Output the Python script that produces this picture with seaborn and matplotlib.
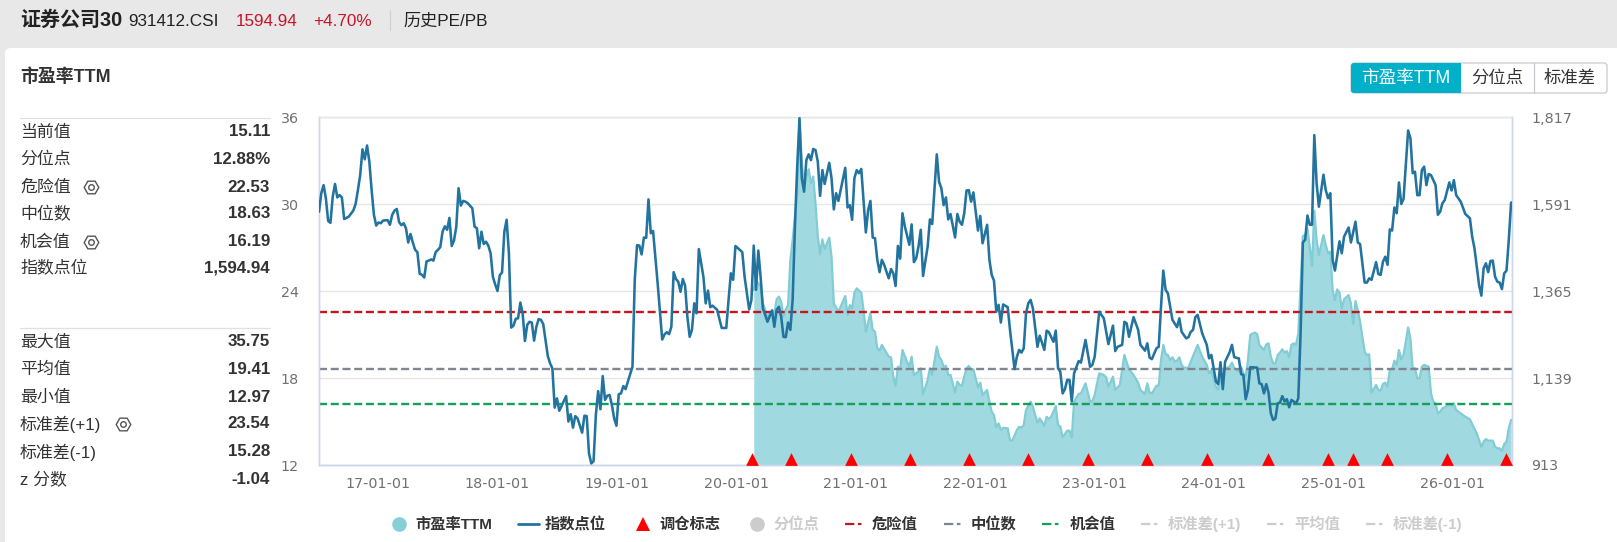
import matplotlib
matplotlib.use("Agg")
import matplotlib.pyplot as plt
from matplotlib.lines import Line2D
from matplotlib.patches import FancyBboxPatch, Rectangle
from matplotlib.ticker import FuncFormatter
from matplotlib.transforms import IdentityTransform
import matplotlib.dates as mdates
import pandas as pd
import seaborn as sns

# Weekly observations, counted in weeks after the first date of the series
series_start = pd.Timestamp("2016-07-04")

index_weeks = [
    0, 1, 2, 3, 4, 5, 6, 7, 8, 9, 10, 11, 12, 13, 15, 16, 17, 18, 19, 20, 21, 22, 23, 24, 25, 26, 27, 28, 30, 31,
    32, 33, 34, 35, 36, 37, 38, 39, 40, 41, 42, 43, 44, 45, 46, 47, 48, 49, 50, 51, 52, 53, 54, 55, 56, 57, 58, 59, 60, 61,
    62, 63, 64, 65, 67, 68, 69, 70, 71, 72, 73, 74, 75, 76, 77, 78, 79, 80, 81, 82, 83, 84, 85, 86, 87, 88, 89, 90, 91, 92,
    93, 94, 95, 96, 97, 98, 99, 100, 101, 102, 103, 104, 105, 106, 108, 109, 110, 111, 112, 113, 115, 116, 117, 118, 119, 120, 121, 122, 123, 124,
    125, 126, 127, 128, 129, 130, 131, 132, 133, 134, 135, 137, 138, 139, 140, 141, 142, 143, 144, 145, 146, 147, 148, 150, 151, 152, 153, 154, 155, 156,
    157, 158, 159, 160, 161, 162, 163, 164, 165, 166, 168, 169, 170, 171, 172, 174, 176, 178, 179, 180, 181, 182, 185, 186, 188, 189, 190, 191, 192, 193,
    194, 195, 196, 198, 199, 200, 201, 202, 203, 204, 205, 206, 207, 208, 209, 210, 211, 212, 213, 214, 215, 216, 217, 218, 219, 220, 221, 223, 224, 225,
    226, 227, 230, 231, 232, 233, 234, 235, 236, 237, 238, 239, 240, 241, 242, 243, 244, 245, 246, 247, 249, 250, 251, 252, 253, 254, 255, 256, 258, 259,
    260, 261, 262, 263, 264, 266, 267, 268, 270, 271, 272, 273, 274, 275, 276, 278, 279, 280, 281, 282, 283, 284, 285, 286, 288, 289, 290, 292, 293, 294,
    295, 296, 297, 298, 299, 301, 302, 304, 305, 306, 307, 308, 309, 310, 311, 312, 314, 315, 317, 318, 319, 321, 322, 323, 324, 325, 326, 327, 328, 329,
    330, 332, 333, 335, 337, 338, 339, 341, 343, 345, 347, 348, 349, 351, 352, 353, 354, 356, 358, 359, 361, 362, 363, 364, 366, 367, 368, 369, 370, 371,
    373, 375, 376, 377, 379, 380, 381, 382, 383, 384, 386, 388, 389, 390, 392, 393, 394, 395, 396, 398, 399, 400, 402, 403, 404, 405, 406, 407, 410, 411,
    412, 413, 414, 415, 416, 417, 418, 419, 420, 421, 422, 423, 424, 425, 426, 427, 428, 429, 430, 431, 432, 433, 434, 435, 436, 437, 439, 440, 441, 442,
    443, 444, 446, 447, 448, 450, 451, 453, 454, 455, 457, 458, 459, 460, 462, 463, 464, 465, 466, 467, 468, 469, 470, 471, 472, 473, 474, 476, 477, 478,
    479, 480, 481, 482, 483, 484, 485, 486, 488, 489, 490, 491, 492, 494, 495, 496, 497, 499, 501, 503, 504, 505, 507, 508, 509, 510, 511, 512, 513, 514,
    515, 516, 517, 518, 519, 520, 521,
]

index_points = [
    1571, 1619, 1640, 1606, 1547, 1542, 1610, 1643, 1608, 1614, 1608, 1552, 1555, 1558, 1574, 1591, 1627, 1666, 1733, 1707, 1743, 1701, 1627, 1563, 1535, 1543, 1541, 1548, 1549, 1537,
    1563, 1574, 1578, 1544, 1536, 1541, 1528, 1491, 1513, 1491, 1472, 1466, 1410, 1407, 1400, 1442, 1444, 1447, 1444, 1466, 1472, 1479, 1519, 1533, 1524, 1555, 1482, 1496, 1532, 1632,
    1587, 1599, 1597, 1593, 1580, 1532, 1528, 1476, 1519, 1487, 1493, 1483, 1463, 1402, 1382, 1365, 1406, 1413, 1519, 1550, 1463, 1270, 1275, 1293, 1294, 1335, 1307, 1235, 1277, 1285,
    1283, 1236, 1272, 1292, 1290, 1279, 1238, 1196, 1177, 1164, 1062, 1086, 1054, 1066, 1092, 1026, 1045, 1010, 1040, 1034, 997, 1041, 1040, 943, 917, 923, 1043, 1105, 1058, 1144,
    1082, 1093, 1095, 1069, 1034, 1015, 1097, 1099, 1118, 1110, 1130, 1168, 1394, 1484, 1483, 1460, 1504, 1503, 1603, 1515, 1521, 1454, 1385, 1239, 1252, 1258, 1253, 1272, 1414, 1396,
    1389, 1363, 1396, 1379, 1298, 1246, 1264, 1333, 1307, 1474, 1402, 1333, 1366, 1323, 1327, 1316, 1269, 1269, 1342, 1411, 1394, 1482, 1466, 1402, 1317, 1342, 1483, 1368, 1470, 1402,
    1320, 1303, 1285, 1314, 1272, 1316, 1324, 1298, 1246, 1245, 1283, 1264, 1342, 1532, 1688, 1814, 1658, 1623, 1705, 1720, 1705, 1734, 1731, 1701, 1612, 1679, 1643, 1698, 1658, 1577,
    1619, 1599, 1685, 1582, 1588, 1550, 1658, 1679, 1671, 1682, 1601, 1517, 1575, 1599, 1504, 1502, 1446, 1414, 1446, 1433, 1398, 1422, 1411, 1378, 1482, 1449, 1567, 1534, 1485, 1538,
    1440, 1450, 1480, 1524, 1404, 1480, 1551, 1539, 1720, 1649, 1632, 1588, 1608, 1551, 1565, 1504, 1565, 1545, 1537, 1567, 1626, 1627, 1597, 1621, 1522, 1560, 1489, 1537, 1446, 1407,
    1392, 1311, 1329, 1283, 1330, 1323, 1264, 1162, 1194, 1212, 1205, 1216, 1307, 1333, 1342, 1320, 1220, 1249, 1212, 1262, 1258, 1233, 1262, 1164, 1155, 1099, 1110, 1134, 1134, 1078,
    1151, 1183, 1179, 1238, 1168, 1173, 1194, 1311, 1294, 1227, 1275, 1209, 1220, 1225, 1285, 1281, 1246, 1297, 1264, 1225, 1210, 1229, 1192, 1188, 1216, 1220, 1324, 1418, 1368, 1359,
    1290, 1271, 1294, 1259, 1242, 1245, 1259, 1264, 1297, 1303, 1255, 1225, 1190, 1199, 1130, 1123, 1180, 1110, 1181, 1206, 1225, 1193, 1190, 1149, 1147, 1084, 1108, 1167, 1166, 1125,
    1123, 1099, 1123, 1101, 1047, 1030, 1034, 1073, 1075, 1092, 1078, 1084, 1063, 1082, 1078, 1073, 1086, 1255, 1491, 1498, 1561, 1537, 1537, 1770, 1645, 1584, 1667, 1627, 1606, 1619,
    1446, 1418, 1494, 1463, 1506, 1530, 1491, 1545, 1491, 1487, 1387, 1387, 1398, 1394, 1440, 1409, 1407, 1441, 1454, 1433, 1525, 1522, 1582, 1567, 1647, 1591, 1604, 1782, 1762, 1671,
    1675, 1614, 1614, 1679, 1688, 1640, 1669, 1666, 1640, 1563, 1571, 1593, 1601, 1647, 1626, 1653, 1614, 1597, 1565, 1554, 1506, 1476, 1381, 1353, 1424, 1437, 1414, 1443, 1444, 1402,
    1389, 1387, 1370, 1411, 1418, 1498, 1594.94,
]

pe_weeks = [
    190, 191, 193, 194, 195, 196, 198, 199, 200, 201, 202, 203, 204, 205, 206, 207, 209, 210, 211, 212, 213, 214, 215, 216, 217, 218, 219, 220, 221, 223,
    224, 225, 227, 230, 231, 232, 233, 234, 235, 237, 238, 239, 241, 242, 243, 244, 245, 246, 249, 250, 251, 252, 253, 254, 255, 257, 258, 259, 260, 262,
    263, 264, 266, 267, 268, 270, 271, 272, 273, 274, 275, 276, 278, 279, 280, 281, 282, 283, 284, 285, 286, 288, 289, 290, 292, 293, 294, 295, 296, 297,
    298, 299, 301, 302, 303, 305, 306, 307, 308, 309, 311, 312, 314, 315, 317, 318, 319, 320, 322, 323, 324, 325, 327, 328, 329, 330, 332, 333, 335, 337,
    338, 339, 341, 343, 344, 345, 347, 348, 350, 352, 354, 356, 358, 359, 361, 362, 363, 364, 366, 367, 368, 369, 370, 371, 372, 373, 374, 375, 376, 377,
    378, 380, 381, 384, 386, 388, 389, 390, 392, 393, 394, 395, 396, 398, 399, 400, 402, 403, 404, 405, 406, 407, 409, 410, 411, 413, 414, 415, 416, 417,
    418, 419, 420, 421, 422, 423, 424, 425, 426, 427, 428, 430, 431, 432, 433, 434, 435, 436, 437, 439, 440, 441, 442, 443, 444, 445, 446, 447, 448, 450,
    451, 452, 453, 454, 455, 457, 458, 459, 460, 462, 463, 464, 465, 466, 467, 468, 469, 470, 471, 472, 473, 474, 476, 477, 478, 479, 480, 481, 482, 483,
    485, 486, 487, 488, 489, 490, 491, 492, 494, 495, 496, 497, 499, 501, 503, 504, 506, 508, 509, 510, 511, 512, 513, 514, 515, 516, 517, 518, 519, 520,
    521,
]

pe_values = [
    24.07, 24.76, 24.30, 23.15, 22.69, 22.23, 22.69, 22.46, 23.43, 23.61, 23.26, 22.23, 22.74, 23.03, 26.14, 27.52, 30.74, 35.75, 33.00, 31.00, 31.90, 32.40, 31.43, 31.89, 30.05, 27.75, 26.55, 27.56, 26.90, 27.68,
    26.37, 23.15, 22.57, 23.66, 22.34, 23.03, 22.80, 23.89, 24.18, 23.89, 22.69, 21.20, 22.46, 21.31, 21.20, 20.05, 19.89, 20.28, 19.47, 19.43, 18.09, 17.47, 18.78, 18.60, 19.93, 19.13, 18.78, 19.47, 18.21, 18.44,
    18.67, 16.87, 17.86, 18.67, 18.21, 20.16, 19.47, 19.24, 18.78, 18.83, 18.21, 18.21, 17.01, 17.75, 17.52, 17.47, 18.09, 18.67, 18.83, 18.55, 18.60, 17.36, 17.68, 16.83, 17.17, 16.37, 15.68, 15.45, 14.60, 14.87,
    14.41, 14.57, 14.53, 13.72, 13.68, 14.41, 14.64, 14.57, 14.76, 15.79, 16.37, 16.02, 14.92, 15.22, 14.69, 15.33, 15.17, 15.33, 16.07, 14.76, 14.64, 13.91, 14.37, 14.37, 13.91, 16.37, 16.90, 16.94, 17.63, 16.37,
    16.41, 16.83, 18.32, 18.21, 18.05, 17.40, 18.09, 17.17, 17.52, 19.59, 18.60, 18.21, 17.68, 17.17, 16.90, 17.63, 16.99, 16.94, 17.47, 17.47, 19.24, 20.28, 19.66, 19.59, 19.24, 19.43, 19.13, 19.20, 19.43, 18.90,
    18.71, 18.71, 19.13, 20.28, 19.47, 18.90, 18.32, 18.51, 17.40, 17.22, 18.21, 17.40, 18.67, 18.78, 19.06, 18.67, 18.44, 18.78, 18.32, 18.09, 19.24, 20.97, 21.13, 21.03, 20.28, 19.93, 20.32, 20.39, 19.47, 19.01,
    19.01, 19.59, 19.75, 19.98, 19.75, 19.86, 19.43, 20.28, 20.39, 20.28, 21.08, 27.79, 27.86, 28.32, 27.06, 25.75, 29.54, 27.52, 26.48, 27.86, 27.17, 26.60, 26.71, 24.07, 23.38, 24.11, 23.89, 22.80, 23.43, 23.72,
    23.15, 21.72, 23.31, 22.69, 21.89, 19.82, 19.59, 19.63, 16.99, 17.52, 17.17, 17.13, 17.59, 17.68, 17.40, 18.55, 18.60, 19.20, 18.90, 19.93, 19.29, 19.59, 21.49, 20.74, 18.67, 18.67, 17.98, 17.98, 18.78, 18.90,
    18.78, 16.94, 16.37, 16.25, 15.56, 15.68, 15.91, 15.98, 16.21, 16.07, 16.25, 15.79, 15.56, 15.33, 15.15, 14.83, 14.18, 13.26, 13.61, 13.79, 13.68, 13.68, 13.68, 13.26, 13.15, 13.15, 12.97, 13.45, 13.61, 14.53,
    15.11,
]

rebalance_weeks = [189.4, 206.4, 232.5, 258.2, 284.3, 310.0, 336.2, 361.9, 388.0, 414.9, 441.0, 451.9, 466.7, 492.9, 518.6]

danger_value = 22.53
median_value = 18.63
chance_value = 16.19

year_ticks = ["2017-01-01", "2018-01-01", "2019-01-01", "2020-01-01", "2021-01-01",
              "2022-01-01", "2023-01-01", "2024-01-01", "2025-01-01", "2026-01-01"]
pe_ticks = [12, 18, 24, 30, 36]
index_ticks = [913, 1139, 1365, 1591, 1817]

stats_upper = [("当前值", "15.11"), ("分位点", "12.88%"), ("危险值", "22.53"),
               ("中位数", "18.63"), ("机会值", "16.19"), ("指数点位", "1,594.94")]
stats_lower = [("最大值", "35.75"), ("平均值", "19.41"), ("最小值", "12.97"),
               ("标准差(+1)", "23.54"), ("标准差(-1)", "15.28"), ("z 分数", "-1.04")]

W, H = 1617, 542
LINE_BLUE = "#22749f"
AREA_EDGE = "#82ccd5"
AREA_FILL = "#a1d9e0"
RED = "#c4161c"
GREY = "#7f8692"
GREEN = "#14a05a"
AXIS = "#ccd6eb"
MUTED = "#cccccc"
TICK_TEXT = "#707070"

sns.set_theme(style="white")
plt.rcParams["font.family"] = ["Liberation Sans", "Noto Sans CJK SC", "DejaVu Sans"]


def to_dates(weeks):
    return [series_start + pd.Timedelta(days=7 * w) for w in weeks]


def put(x, y, s, **kw):
    kw.setdefault("va", "center")
    return fig.text(x / W, 1 - y / H, s, **kw)


fig = plt.figure(figsize=(W / 100, H / 100), dpi=100, facecolor="#e8e8e8")
pixels = IdentityTransform()

# White card holding everything below the header strip
fig.add_artist(FancyBboxPatch((5, -30), W + 30, H - 48 + 30, boxstyle="round,pad=0,rounding_size=6",
                              transform=pixels, facecolor="white", edgecolor="none", zorder=-5))

ax = fig.add_axes([319 / W, 1 - 465 / H, (1512 - 319) / W, (465 - 117) / H], facecolor="white")
ax2 = ax.twinx()

index_df = pd.DataFrame({"date": to_dates(index_weeks), "points": index_points})
pe_df = pd.DataFrame({"date": to_dates(pe_weeks), "pe": pe_values})
marks_df = pd.DataFrame({"date": to_dates(rebalance_weeks), "level": [index_ticks[0] + 16] * len(rebalance_weeks)})

ax.fill_between(pe_df["date"], pe_df["pe"], 12, color=AREA_FILL, linewidth=0, zorder=2)
sns.lineplot(data=pe_df, x="date", y="pe", ax=ax, color=AREA_EDGE, linewidth=1.6, zorder=3, legend=False)

for level, colour in ((danger_value, RED), (median_value, GREY), (chance_value, GREEN)):
    ax.axhline(level, color=colour, linewidth=1.7, dashes=(3.4, 1.57), zorder=4)

sns.lineplot(data=index_df, x="date", y="points", ax=ax2, color=LINE_BLUE, linewidth=1.85, zorder=5, legend=False)
sns.scatterplot(data=marks_df, x="date", y="level", ax=ax2, marker="^", color="#ff0000", s=84,
                linewidth=0, zorder=6, clip_on=False, legend=False)

ax.set_xlim(series_start, series_start + pd.Timedelta(days=7 * 521.4))
ax.set_ylim(12, 36)
ax2.set_ylim(913, 1817)
ax.set_xlabel("")
ax.set_ylabel("")
ax2.set_xlabel("")
ax2.set_ylabel("")

ax.set_xticks(pd.to_datetime(year_ticks))
ax.xaxis.set_major_formatter(mdates.DateFormatter("%y-%m-%d"))
ax.set_yticks(pe_ticks)
ax2.set_yticks(index_ticks)
ax2.yaxis.set_major_formatter(FuncFormatter(lambda v, _: f"{int(v):,}"))

ax.yaxis.grid(True, color="#e6e6e6", linewidth=1.0, zorder=1)
ax.set_axisbelow(True)
ax.tick_params(axis="x", length=3.6, width=0.8, color=AXIS, pad=5, labelcolor=TICK_TEXT, labelsize=10.3)
ax.tick_params(axis="y", length=0, pad=14.4, labelcolor=TICK_TEXT, labelsize=10.3)
ax2.tick_params(axis="y", length=0, pad=14, labelcolor=TICK_TEXT, labelsize=10.3)
for lab in ax.get_xticklabels() + ax.get_yticklabels() + ax2.get_yticklabels():
    lab.set_fontfamily("DejaVu Sans")

for a in (ax, ax2):
    a.patch.set_visible(a is ax)
    a.spines["left"].set_color(AXIS)
    a.spines["right"].set_color(AXIS)
    a.spines["bottom"].set_color(AXIS)
    a.spines["top"].set_color("#e6e6e6")
    for side in a.spines.values():
        side.set_linewidth(1.0)

# Legend, with the hidden series greyed out
dash_key = (4.2, 1.6, 1.6, 4)
handles = [
    Line2D([], [], linestyle="none", marker="o", markersize=10.5, color="#85cfd8", markeredgewidth=0),
    Line2D([], [], color=LINE_BLUE, linewidth=2),
    Line2D([], [], linestyle="none", marker="^", markersize=9.5, color="#ff0000", markeredgewidth=0),
    Line2D([], [], linestyle="none", marker="o", markersize=10.5, color=MUTED, markeredgewidth=0),
    Line2D([], [], color=RED, linewidth=1.6, dashes=dash_key),
    Line2D([], [], color=GREY, linewidth=1.6, dashes=dash_key),
    Line2D([], [], color=GREEN, linewidth=1.6, dashes=dash_key),
    Line2D([], [], color=MUTED, linewidth=1.6, dashes=dash_key),
    Line2D([], [], color=MUTED, linewidth=1.6, dashes=dash_key),
    Line2D([], [], color=MUTED, linewidth=1.6, dashes=dash_key),
]
labels = ["市盈率TTM", "指数点位", "调仓标志", "分位点", "危险值", "中位数", "机会值", "标准差(+1)", "平均值", "标准差(-1)"]
legend_size = 11.0
em = legend_size * 100 / 72
leg = fig.legend(handles, labels, ncol=10, loc="center", bbox_to_anchor=(925.5 / W, 1 - 524 / H), frameon=False,
                 columnspacing=26 / em, handlelength=21 / em, handletextpad=6 / em,
                 borderpad=0, borderaxespad=0, prop={"size": legend_size, "weight": "bold"})
for i, text in enumerate(leg.get_texts()):
    text.set_color(MUTED if labels[i] in ("分位点", "标准差(+1)", "平均值", "标准差(-1)") else "#333333")

# Header strip
put(20, 20, "证券公司30", fontsize=14.4, fontweight="bold", color="#222222")
put(128, 21, "931412.CSI", fontsize=12.3, color="#222222")
put(236, 21, "1594.94", fontsize=12.3, color="#c81428")
put(313.5, 21, "+4.70%", fontsize=12.3, color="#c81428")
fig.add_artist(Line2D([390 / W, 390 / W], [1 - 10 / H, 1 - 30 / H], color="#cfcfcf", linewidth=0.8))
put(403.6, 21, "历史PE/PB", fontsize=12.3, color="#222222")

put(20, 77, "市盈率TTM", fontsize=12.9, fontweight="bold", color="#333333")

# Segmented switch at the top right
fig.add_artist(FancyBboxPatch((1351, H - 93), 1607 - 1351, 30, boxstyle="round,pad=0,rounding_size=3", transform=pixels,
                              facecolor="white", edgecolor="#c8c8d0", linewidth=0.9))
fig.add_artist(FancyBboxPatch((1351, H - 93), 30, 30, boxstyle="round,pad=0,rounding_size=3", transform=pixels,
                              facecolor="#00afc8", edgecolor="none"))
fig.add_artist(Rectangle((1362, H - 93), 1461 - 1362, 30, transform=pixels, facecolor="#00afc8", edgecolor="none"))
fig.add_artist(Line2D([1534 / W, 1534 / W], [1 - 63 / H, 1 - 93 / H], color="#c8c8d0", linewidth=0.9))
put(1406, 78, "市盈率TTM", fontsize=12.7, color="white", ha="center")
put(1497, 78, "分位点", fontsize=12.5, color="#333333", ha="center")
put(1570, 78, "标准差", fontsize=12.5, color="#333333", ha="center")

# Statistics column
for rule_y in (118, 328):
    fig.add_artist(Line2D([20 / W, 270 / W], [1 - rule_y / H, 1 - rule_y / H], color="#dfe0e6", linewidth=0.9))
rows_upper_y = [132, 159, 187, 214, 242, 268]
rows_lower_y = [342, 369, 397, 424, 452, 479]
for (name, val), y in zip(stats_upper + stats_lower, rows_upper_y + rows_lower_y):
    put(20, y, name, fontsize=12.2, color="#333333")
    put(270, y, val, fontsize=12.2, fontweight="bold", color="#333333", ha="right")

# Settings gears beside the adjustable rows
for gx, gy in ((91, 187), (91, 242), (123, 424)):
    fig.add_artist(Line2D([gx / W], [1 - gy / H], marker="H", markersize=10.5, markerfacecolor="none",
                          markeredgecolor="#555555", markeredgewidth=1.0, linestyle="none"))
    fig.add_artist(Line2D([gx / W], [1 - gy / H], marker="o", markersize=4, markerfacecolor="none",
                          markeredgecolor="#555555", markeredgewidth=1.0, linestyle="none"))

fig.savefig("out.png", dpi=100, facecolor=fig.get_facecolor())
